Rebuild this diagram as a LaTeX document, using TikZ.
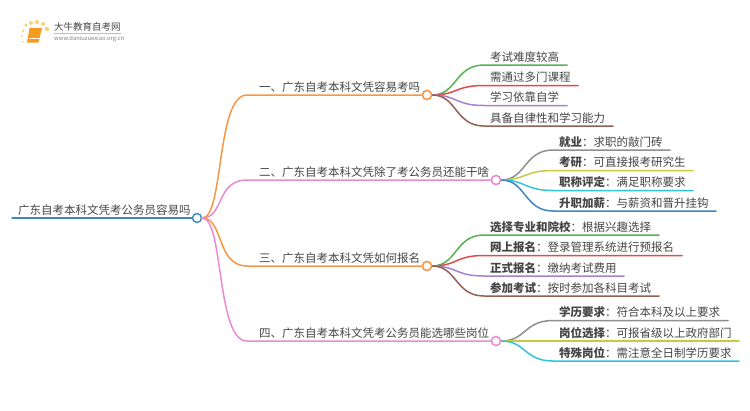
\documentclass[tikz,border=0pt]{standalone}
\usepackage{fontspec}
\usepackage{xcolor}
\setmainfont{Noto Sans CJK SC}
\definecolor{txtgray}{HTML}{444444}
\definecolor{rootblue}{HTML}{3A87C8}
\definecolor{mainorange}{HTML}{F79646}
\definecolor{mainpink}{HTML}{E88BD3}
\definecolor{lfgreen}{HTML}{55B250}
\definecolor{lfred}{HTML}{E04B4B}
\definecolor{lfpurple}{HTML}{A681CF}
\definecolor{lfbrown}{HTML}{93614F}
\definecolor{lfgray}{HTML}{8F8F8F}
\definecolor{lfolive}{HTML}{C9C843}
\definecolor{lfcyan}{HTML}{31C4DC}
\definecolor{lfblue}{HTML}{3F85C2}
\definecolor{logoorange}{HTML}{F59A1E}
\definecolor{logodot}{HTML}{FBD27A}
\tikzset{
  txt/.style={anchor=west,inner sep=0pt,text=txtgray,font=\fontsize{11.5}{14}\selectfont},
  junc/.style={circle,draw=#1,fill=white,line width=1.4pt,minimum size=9pt,inner sep=0pt},
  link/.style={line width=1.5pt,line cap=round}
}
\begin{document}
\begin{tikzpicture}[x=1pt,y=-1pt]
\useasboundingbox (0,0) rectangle (750,410);
% logo
\foreach \x/\y/\r in {26/25/1.8,31/23/2,37/22/2.1,43/24/2,47/29/2.2,23/31/1.4,22/36/1.1,23/42/0.9}
  \fill[logodot] (\x,\y) circle (\r);
\fill[logoorange] (29.5,28) -- (42,28) -- (38.5,42.5) -- (27,42.5) -- cycle;
\draw[white,line width=0.7pt] (28.5,38.5) -- (39,38.5);
\node[anchor=west,inner sep=0pt,text=txtgray,font=\fontsize{9.5}{11}\selectfont] (logotxt) at (54,27) {大牛教育自考网};
\node[anchor=west,inner sep=0pt,text=gray,font=\fontsize{5.8}{7}\selectfont] (logourl) at (54,38.7) {www.daniuzuexiao.org.cn};
\draw[lightgray,line width=0.4pt] (54,33) -- (121,33);
% root
\coordinate (roots) at (12,218);
\node[junc=rootblue] (root) at (197,218) {};
\node[txt] (roottxt) at (18,210.5) {广东自考本科文凭考公务员容易吗};
\draw[link,rootblue] (roots) -- (root);
% main branches
\foreach \n/\y/\xe/\c/\t in {
  a/95/422/mainorange/一、广东自考本科文凭容易考吗,
  b/180/491/mainpink/二、广东自考本科文凭除了考公务员还能干啥,
  c/266/422/mainorange/三、广东自考本科文凭如何报名,
  d/341/491/mainpink/四、广东自考本科文凭考公务员能选哪些岗位}{
  \coordinate (\n s) at (247,\y);
  \node[junc=\c] (\n) at (\xe+5,\y) {};
  \node[txt] (\n txt) at (259,\y-7.5) {\t};
  \draw[link,\c] (root.east) .. controls (224,218) and (216,\y) .. (\n s) -- (\n);
}
% leaves
\foreach \n/\jx/\jy/\y/\xe/\c/\b/\t [count=\i] in {
  a/431/95/65/567/lfgreen//考试难度较高,
  a/431/95/85.5/578/lfred//需通过多门课程,
  a/431/95/105.5/567/lfpurple//学习依靠自学,
  a/431/95/126/613/lfbrown//具备自律性和学习能力,
  b/500/180/150/670/lfgray/就业/：求职的敲门砖,
  b/500/180/170.5/693/lfolive/考研/：可直接报考研究生,
  b/500/180/190.5/693/lfcyan/职称评定/：满足职称要求,
  b/500/180/211/716/lfblue/升职加薪/：与薪资和晋升挂钩,
  c/431/266/235/659/lfgreen/选择专业和院校/：根据兴趣选择,
  c/431/266/255.5/682/lfred/网上报名/：登录管理系统进行预报名,
  c/431/266/276/624/lfpurple/正式报名/：缴纳考试费用,
  c/431/266/296/659/lfbrown/参加考试/：按时参加各科目考试,
  d/500/341/320.5/728/lfgray/学历要求/：符合本科及以上要求,
  d/500/341/341/739/lfolive/岗位选择/：可报省级以上政府部门,
  d/500/341/361/739/lfcyan/特殊岗位/：需注意全日制学历要求}{
  \coordinate (lf\i s) at (\jx+53,\y);
  \coordinate (lf\i e) at (\xe,\y);
  \node[txt] (lf\i) at (\jx+59,\y-8) {\textbf{\b}\t};
  \draw[link,\c] (\n.east) .. controls (\jx+26,\jy) and (\jx+24,\y) .. (lf\i s) -- (lf\i e);
}
% redraw circles over the lines
\foreach \n/\y/\xe/\c in {a/95/427/mainorange,b/180/496/mainpink,c/266/427/mainorange,d/341/496/mainpink}
  \node[junc=\c] (\n top) at (\xe,\y) {};
\end{tikzpicture}
\end{document}
